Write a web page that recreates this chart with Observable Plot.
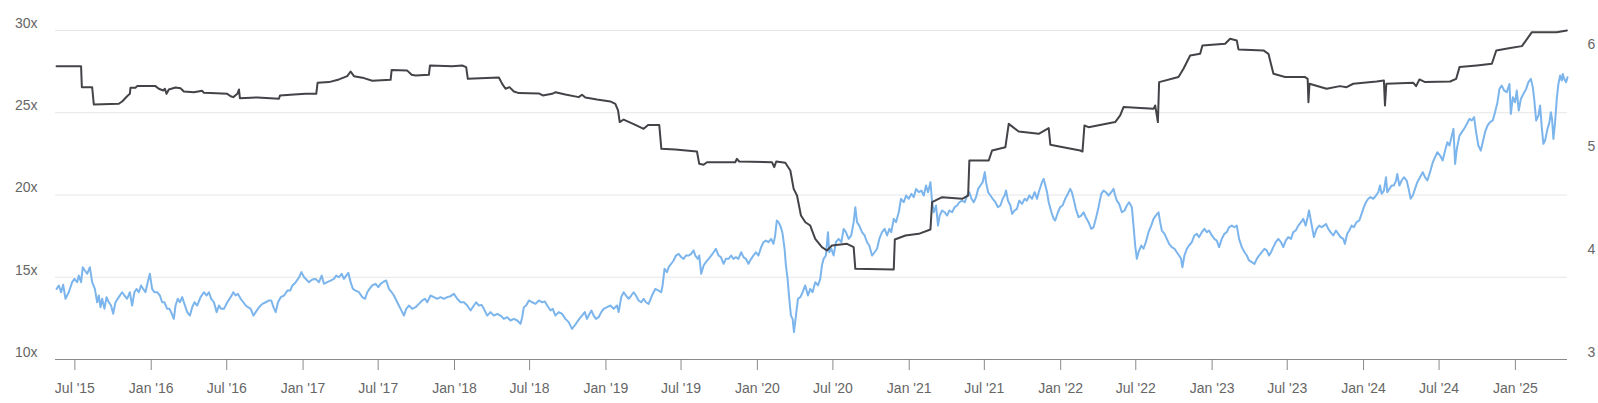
<!DOCTYPE html>
<html>
<head>
<meta charset="utf-8">
<script src="https://cdn.jsdelivr.net/npm/d3@7"></script>
<script src="https://cdn.jsdelivr.net/npm/@observablehq/plot@0.6"></script>
<style>
  html, body { margin: 0; padding: 0; background: #ffffff; }
  #chart { width: 1598px; height: 403px; }
</style>
</head>
<body>
<div id="chart"></div>
<script>
// ---- Data (decimal year, value) ----
// P/E multiple (left axis)
const peSeries = [
[2015.375,14.29],[2015.390,14.50],[2015.405,14.09],[2015.419,14.54],[2015.434,13.69],[2015.456,14.09],[2015.478,14.70],[2015.493,14.90],[2015.511,14.70],[2015.522,15.10],[2015.537,14.70],[2015.548,15.61],[2015.562,15.41],[2015.577,15.21],[2015.595,15.61],[2015.610,14.70],[2015.628,14.29],[2015.643,13.48],[2015.654,13.89],[2015.665,13.18],[2015.676,13.69],[2015.691,13.08],[2015.705,13.79],[2015.720,13.48],[2015.735,13.28],[2015.749,12.78],[2015.764,13.48],[2015.786,13.79],[2015.808,14.09],[2015.823,13.89],[2015.841,13.69],[2015.859,14.09],[2015.874,13.28],[2015.889,14.09],[2015.903,14.29],[2015.918,14.09],[2015.933,14.50],[2015.947,14.29],[2015.962,14.09],[2015.977,14.70],[2015.991,15.21],[2016.006,14.29],[2016.021,14.09],[2016.039,14.09],[2016.057,13.89],[2016.072,13.48],[2016.087,13.48],[2016.105,13.08],[2016.120,13.08],[2016.131,12.88],[2016.149,12.47],[2016.160,13.28],[2016.175,13.69],[2016.189,13.48],[2016.204,13.79],[2016.215,13.48],[2016.237,12.88],[2016.255,12.67],[2016.270,13.18],[2016.285,13.48],[2016.303,13.28],[2016.325,13.79],[2016.347,14.09],[2016.365,13.89],[2016.380,14.09],[2016.395,13.69],[2016.413,13.48],[2016.431,12.88],[2016.446,13.28],[2016.461,13.08],[2016.479,13.08],[2016.501,13.48],[2016.523,13.79],[2016.541,14.09],[2016.556,13.89],[2016.571,13.99],[2016.589,13.69],[2016.607,13.48],[2016.622,13.28],[2016.637,13.18],[2016.655,13.08],[2016.673,12.67],[2016.688,12.88],[2016.710,13.18],[2016.732,13.38],[2016.754,13.48],[2016.776,13.59],[2016.791,13.59],[2016.805,13.18],[2016.820,12.88],[2016.835,13.48],[2016.853,13.79],[2016.875,13.89],[2016.897,14.19],[2016.915,14.19],[2016.930,14.50],[2016.952,14.70],[2016.974,15.00],[2016.989,15.31],[2017.007,15.00],
[2017.039,14.70],[2017.061,14.86],[2017.083,14.90],[2017.105,14.70],[2017.123,15.10],[2017.138,14.60],[2017.160,14.70],[2017.182,14.80],[2017.204,14.90],[2017.219,15.10],[2017.237,15.00],[2017.255,15.21],[2017.270,14.90],[2017.285,15.10],[2017.299,15.27],[2017.314,14.70],[2017.329,14.29],[2017.347,14.19],[2017.369,14.09],[2017.391,13.79],[2017.409,13.69],[2017.424,14.09],[2017.439,14.29],[2017.457,14.50],[2017.479,14.60],[2017.497,14.40],[2017.512,14.60],[2017.534,14.74],[2017.549,14.80],[2017.567,14.29],[2017.585,14.09],[2017.600,13.89],[2017.622,13.48],[2017.644,13.08],[2017.666,12.67],[2017.681,13.08],[2017.699,13.28],[2017.721,13.08],[2017.743,13.18],[2017.765,13.38],[2017.787,13.59],[2017.805,13.69],[2017.820,13.48],[2017.842,13.89],[2017.864,13.79],[2017.886,13.69],[2017.908,13.79],[2017.930,13.69],[2017.952,13.79],[2017.974,13.85],[2017.996,13.99],[2018.018,13.69],[2018.040,13.48],[2018.062,13.48],[2018.084,13.28],[2018.106,12.98],[2018.128,13.28],[2018.143,13.48],[2018.161,13.28],[2018.179,13.32],[2018.194,13.08],[2018.216,12.67],[2018.238,12.88],[2018.260,12.67],[2018.282,12.78],[2018.304,12.67],[2018.326,12.47],[2018.348,12.57],[2018.370,12.37],[2018.392,12.47],[2018.414,12.37],[2018.436,12.17],[2018.447,12.57],[2018.458,13.18],[2018.473,13.28],[2018.491,13.59],[2018.513,13.48],[2018.535,13.38],[2018.557,13.59],[2018.579,13.48],[2018.597,13.52],[2018.612,13.28],[2018.634,12.98],[2018.649,13.08],
[2018.666,12.67],[2018.688,12.88],[2018.710,12.78],[2018.732,12.47],[2018.754,12.27],[2018.776,11.86],[2018.794,12.07],[2018.809,12.27],[2018.824,12.47],[2018.842,12.67],[2018.860,12.88],[2018.875,12.47],[2018.886,12.67],[2018.904,12.98],[2018.919,12.67],[2018.934,12.47],[2018.952,12.57],[2018.969,12.88],[2018.985,13.08],[2019.007,13.18],[2019.029,13.28],[2019.051,13.08],[2019.073,13.28],[2019.084,12.88],[2019.101,13.79],[2019.117,14.09],[2019.132,13.89],[2019.150,13.69],[2019.167,13.89],[2019.183,14.09],[2019.198,13.89],[2019.216,13.59],[2019.233,13.48],[2019.249,13.69],[2019.264,13.48],[2019.282,13.38],[2019.304,13.89],[2019.326,14.29],[2019.348,14.19],[2019.365,14.09],[2019.374,14.50],[2019.387,15.51],[2019.403,15.31],[2019.414,15.61],[2019.431,15.82],[2019.447,16.02],[2019.462,16.32],[2019.480,16.42],[2019.497,16.22],[2019.513,16.12],[2019.528,16.32],[2019.546,16.32],[2019.563,16.42],[2019.579,16.63],[2019.590,16.32],[2019.607,16.12],[2019.616,16.32],[2019.629,15.21],[2019.645,15.71],[2019.660,15.92],[2019.678,16.12],[2019.695,16.32],[2019.711,16.52],[2019.726,16.73],[2019.744,16.32],[2019.759,16.22],[2019.777,15.82],[2019.792,16.12],[2019.809,16.12],[2019.827,16.32],[2019.842,16.12],[2019.858,16.22],[2019.875,16.12],[2019.893,16.52],[2019.908,16.22],[2019.924,16.12],[2019.941,15.82],[2019.959,16.12],[2019.974,16.32],[2019.990,16.52],[2020.007,16.32],[2020.025,16.83],[2020.040,17.13],[2020.056,17.23],[2020.073,17.13],[2020.091,17.33],[2020.106,17.03],[2020.117,17.54],[2020.128,18.45],[2020.139,18.35],[2020.155,18.04],[2020.166,17.64],[2020.179,16.73],[2020.188,15.71],[2020.199,14.90],[2020.210,13.69],[2020.221,12.67],[2020.232,12.47],[2020.241,11.66],[2020.254,12.67],[2020.267,13.69],[2020.283,13.79],[2020.298,14.09],
[2020.315,14.50],[2020.333,13.89],[2020.348,14.29],[2020.363,14.09],[2020.381,14.70],[2020.399,14.50],[2020.414,14.90],[2020.425,15.71],[2020.436,16.12],[2020.451,16.32],[2020.465,17.74],[2020.473,16.52],[2020.487,16.73],[2020.502,16.32],[2020.517,17.13],[2020.535,17.33],[2020.553,17.13],[2020.568,17.94],[2020.583,17.74],[2020.601,17.33],[2020.618,17.54],[2020.634,18.35],[2020.645,19.26],[2020.656,18.35],[2020.671,18.14],[2020.689,17.74],[2020.706,17.54],[2020.722,17.13],[2020.737,16.93],[2020.755,16.32],[2020.772,16.52],[2020.788,16.73],[2020.803,17.33],[2020.821,17.74],[2020.838,17.94],[2020.854,17.54],[2020.869,17.94],[2020.882,17.74],[2020.898,18.55],[2020.913,18.35],[2020.931,18.95],[2020.946,19.77],[2020.964,19.56],[2020.979,19.97],[2020.997,19.77],[2021.014,20.07],[2021.030,19.87],[2021.045,20.37],[2021.063,20.17],[2021.080,20.27],[2021.096,19.97],[2021.111,20.58],[2021.124,20.17],[2021.140,20.78],[2021.151,19.56],[2021.162,18.95],[2021.177,19.36],[2021.190,18.14],[2021.201,18.75],[2021.217,19.06],[2021.234,18.95],[2021.250,18.75],[2021.265,19.06],[2021.283,18.95],[2021.300,19.26],[2021.316,19.36],[2021.331,19.56],[2021.349,19.66],[2021.367,19.56],[2021.382,19.97],[2021.397,20.17],[2021.411,19.77],[2021.426,19.56],[2021.441,19.87],[2021.455,20.37],[2021.470,20.58],[2021.485,20.78],[2021.499,21.39],[2021.507,20.78],[2021.521,20.17],[2021.536,19.97],[2021.551,19.77],[2021.569,19.56],[2021.586,19.26],[2021.602,19.36],[2021.617,19.77],[2021.630,19.97],[2021.639,20.27],[2021.652,19.66],[2021.668,19.36],[2021.679,18.85],[2021.696,19.06],[2021.711,19.16],[2021.727,19.66],[2021.745,19.46],[2021.762,19.77],[2021.777,19.66],[2021.793,19.97],[2021.811,19.77],[2021.828,20.17],[2021.844,19.77],[2021.855,20.17],[2021.866,20.47],[2021.877,20.78],[2021.888,20.98],[2021.899,20.58],[2021.910,20.17],[2021.921,19.56],[2021.939,18.95],[2021.954,18.55],
[2021.964,18.45],[2021.982,18.95],[2021.997,19.26],[2022.012,19.36],[2022.030,19.77],[2022.048,20.07],[2022.063,20.37],[2022.074,20.17],[2022.085,19.77],[2022.100,19.16],[2022.118,18.65],[2022.136,18.75],[2022.151,18.95],[2022.166,18.65],[2022.184,18.35],[2022.202,17.94],[2022.217,18.04],[2022.232,18.55],[2022.250,19.26],[2022.268,20.07],[2022.283,20.27],[2022.298,20.17],[2022.316,19.97],[2022.334,20.17],[2022.349,20.37],[2022.360,19.97],[2022.371,19.66],[2022.386,19.46],[2022.404,18.95],[2022.422,19.06],[2022.437,19.36],[2022.452,19.56],[2022.470,19.26],[2022.481,18.14],[2022.492,16.93],[2022.503,16.12],[2022.514,16.52],[2022.532,16.93],[2022.547,16.73],[2022.562,17.13],[2022.580,17.74],[2022.598,18.14],[2022.613,18.55],[2022.628,18.75],[2022.646,18.95],[2022.657,18.35],[2022.668,17.84],[2022.686,17.64],[2022.701,17.33],[2022.716,17.03],[2022.734,16.83],[2022.752,16.73],[2022.767,16.52],[2022.782,16.32],[2022.795,16.12],[2022.804,15.61],[2022.817,16.32],[2022.833,16.73],[2022.848,16.93],[2022.866,17.13],[2022.883,17.54],[2022.899,17.64],[2022.914,17.44],[2022.932,17.74],[2022.949,17.94],[2022.965,17.74],[2022.980,17.84],[2022.998,17.54],[2023.015,17.33],[2023.031,17.23],[2023.046,16.83],[2023.064,17.33],[2023.081,17.64],[2023.097,17.74],[2023.112,18.04],[2023.130,18.14],[2023.147,18.04],[2023.163,18.14],[2023.178,17.33],[2023.196,16.83],[2023.214,16.52],[2023.229,16.32],[2023.244,16.02],[2023.262,15.92],[2023.280,15.81],[2023.295,16.12],[2023.310,16.32],[2023.328,16.52],[2023.345,16.73],[2023.361,16.63],[2023.376,16.32],[2023.389,16.52],[2023.404,16.83],[2023.420,17.13],[2023.437,17.33],[2023.455,17.13],[2023.470,16.83],[2023.486,17.23],[2023.503,17.44],[2023.521,17.33],[2023.536,17.74],[2023.552,17.84],[2023.569,18.14],[2023.587,18.35],[2023.602,18.55],[2023.618,18.14],[2023.631,18.65],[2023.640,19.06],
[2023.672,17.44],[2023.690,17.94],[2023.708,18.14],[2023.723,18.04],[2023.738,18.14],[2023.752,18.24],[2023.767,17.94],[2023.782,17.74],[2023.800,17.54],[2023.818,17.84],[2023.833,17.64],[2023.848,17.44],[2023.866,17.33],[2023.877,17.03],[2023.892,17.64],[2023.906,17.84],[2023.921,18.14],[2023.936,18.04],[2023.954,18.35],[2023.972,18.45],[2023.987,18.85],[2024.002,19.26],[2024.016,19.56],[2024.031,19.77],[2024.046,19.87],[2024.064,19.77],[2024.082,19.97],[2024.097,20.17],[2024.108,20.58],[2024.119,20.07],[2024.134,20.27],[2024.148,21.08],[2024.156,20.17],[2024.170,20.37],[2024.185,20.58],[2024.200,20.58],[2024.214,20.88],[2024.222,21.28],[2024.236,20.58],[2024.251,20.88],[2024.266,21.08],[2024.284,20.88],[2024.297,20.37],[2024.310,19.77],[2024.324,19.97],[2024.339,20.37],[2024.354,20.78],[2024.372,21.08],[2024.390,21.39],[2024.405,21.08],[2024.420,20.88],[2024.438,21.39],[2024.456,21.99],[2024.471,22.30],[2024.486,22.60],[2024.504,22.40],[2024.521,22.10],[2024.537,22.70],[2024.552,23.21],[2024.566,23.01],[2024.581,23.61],[2024.592,24.02],[2024.603,21.89],[2024.614,22.80],[2024.632,23.61],[2024.647,23.82],[2024.662,24.02],[2024.680,24.32],[2024.698,24.63],[2024.713,24.53],[2024.728,24.73],[2024.741,23.82],[2024.756,23.01],[2024.772,22.70],[2024.785,23.21],[2024.800,23.82],[2024.816,24.22],[2024.833,24.43],[2024.851,24.53],[2024.866,25.03],[2024.882,25.64],[2024.895,26.45],[2024.910,26.65],[2024.926,26.35],[2024.943,26.25],[2024.961,26.75],[2024.970,24.93],[2024.983,25.94],[2024.998,25.64],[2025.009,26.35],[2025.022,25.13],[2025.036,25.84],[2025.053,26.15],[2025.071,26.45],[2025.086,26.86],[2025.102,27.06],[2025.115,26.55],[2025.124,25.84],[2025.137,24.53],[2025.152,24.83],[2025.163,25.44],[2025.174,24.12],[2025.185,23.11],[2025.196,23.31],[2025.212,24.02],[2025.225,24.43],[2025.234,25.03],[2025.242,24.63],[2025.251,23.41],[2025.262,24.43],[2025.273,25.84],[2025.284,26.75],[2025.295,27.26],[2025.306,26.96],[2025.313,27.36],[2025.322,27.06],[2025.335,26.86],[2025.344,27.16]
];

// EPS (right axis)
const epsSeries = [
[2015.375,5.853],[2015.537,5.853],[2015.542,5.649],[2015.610,5.649],[2015.621,5.481],[2015.786,5.487],[2015.808,5.510],[2015.841,5.561],[2015.859,5.584],[2015.863,5.643],[2015.896,5.643],[2015.907,5.659],[2016.028,5.659],[2016.050,5.633],[2016.079,5.617],[2016.090,5.633],[2016.101,5.584],[2016.116,5.626],[2016.160,5.646],[2016.193,5.639],[2016.215,5.607],[2016.281,5.600],[2016.336,5.613],[2016.347,5.594],[2016.391,5.591],[2016.501,5.584],[2016.523,5.561],[2016.541,5.552],[2016.567,5.584],[2016.578,5.626],[2016.584,5.542],[2016.699,5.549],[2016.841,5.536],[2016.848,5.568],[2016.941,5.578],[2017.017,5.584],
[2017.087,5.584],[2017.096,5.691],[2017.171,5.698],[2017.237,5.724],[2017.292,5.756],[2017.314,5.801],[2017.336,5.756],[2017.402,5.737],[2017.457,5.712],[2017.578,5.720],[2017.585,5.817],[2017.688,5.810],[2017.717,5.769],[2017.743,5.763],[2017.831,5.769],[2017.838,5.860],[2017.985,5.853],[2018.051,5.860],[2018.077,5.844],[2018.088,5.730],[2018.293,5.743],[2018.315,5.681],[2018.337,5.633],[2018.363,5.649],[2018.392,5.607],[2018.425,5.591],[2018.557,5.588],[2018.583,5.568],[2018.645,5.584],[2018.667,5.600],
[2018.732,5.578],[2018.820,5.552],[2018.842,5.575],[2018.864,5.549],[2018.941,5.529],[2019.029,5.510],[2019.062,5.487],[2019.080,5.422],[2019.091,5.309],[2019.117,5.334],[2019.194,5.282],[2019.249,5.244],[2019.278,5.282],[2019.352,5.282],[2019.366,5.049],[2019.458,5.043],[2019.601,5.023],[2019.616,4.903],[2019.645,4.894],[2019.667,4.919],[2019.854,4.919],[2019.865,4.952],[2019.880,4.926],[2020.096,4.919],[2020.111,4.871],[2020.124,4.926],[2020.184,4.913],[2020.217,4.838],[2020.239,4.660],[2020.261,4.595],[2020.287,4.400],[2020.316,4.335],
[2020.348,4.303],[2020.381,4.174],[2020.425,4.093],[2020.458,4.060],[2020.491,4.109],[2020.590,4.125],[2020.634,4.093],[2020.645,3.882],[2020.898,3.876],[2020.905,4.167],[2020.975,4.206],[2021.063,4.222],[2021.140,4.265],[2021.151,4.530],[2021.217,4.579],[2021.349,4.563],[2021.389,4.595],[2021.397,4.936],[2021.525,4.936],[2021.547,5.033],[2021.635,5.065],[2021.657,5.292],[2021.723,5.218],[2021.855,5.195],[2021.921,5.250],[2021.932,5.088],[2021.965,5.080],
[2022.129,5.033],[2022.144,5.023],[2022.157,5.276],[2022.184,5.260],[2022.360,5.309],[2022.393,5.374],[2022.415,5.455],[2022.613,5.438],[2022.624,5.471],[2022.642,5.309],[2022.650,5.698],[2022.778,5.747],[2022.811,5.828],[2022.855,5.957],[2022.921,5.973],[2022.936,6.054],[2023.086,6.071],[2023.119,6.119],[2023.163,6.103],[2023.174,6.016],[2023.339,6.006],[2023.372,5.973],[2023.405,5.779],[2023.482,5.747],[2023.614,5.747],[2023.631,5.730],[2023.636,5.503],[2023.643,5.682],
[2023.756,5.633],[2023.844,5.659],[2023.888,5.649],[2023.932,5.682],[2024.086,5.704],[2024.134,5.714],[2024.141,5.471],[2024.150,5.682],[2024.328,5.691],[2024.346,5.659],[2024.368,5.724],[2024.405,5.698],[2024.570,5.704],[2024.610,5.730],[2024.632,5.844],[2024.746,5.860],[2024.845,5.876],[2024.874,6.006],[2024.966,6.029],[2025.043,6.048],[2025.109,6.184],[2025.273,6.184],[2025.340,6.200]
];

// Axis ticks
const xTickDates = ["2015-07-01","2016-01-01","2016-07-01","2017-01-01","2017-07-01","2018-01-01","2018-07-01","2019-01-01","2019-07-01","2020-01-01","2020-07-01","2021-01-01","2021-07-01","2022-01-01","2022-07-01","2023-01-01","2023-07-01","2024-01-01","2024-07-01","2025-01-01"];
const leftTicks = [10, 15, 20, 25, 30];
const rightTicks = [3, 4, 5, 6];
const xRange = [2015.368, 2025.344];
const leftDomain = [10, 30];
const rightDomain = [3, 6.2];

// ---- helpers ----
function toDate(y) {
  const yr = Math.floor(y);
  const a = Date.UTC(yr, 0, 1), b = Date.UTC(yr + 1, 0, 1);
  return new Date(a + (y - yr) * (b - a));
}
const k = (leftDomain[1] - leftDomain[0]) / (rightDomain[1] - rightDomain[0]);
const toLeft = e => leftDomain[0] + (e - rightDomain[0]) * k;
const fromLeft = v => rightDomain[0] + (v - leftDomain[0]) / k;

const pe = peSeries.map(([y, v]) => ({date: toDate(y), value: v}));
const eps = epsSeries.map(([y, v]) => ({date: toDate(y), value: toLeft(v)}));
const ticks = xTickDates.map(s => new Date(s + "T00:00:00Z"));
const fmt = d3.utcFormat("%b '%y");

const chart = Plot.plot({
  width: 1598,
  height: 403,
  marginLeft: 55,
  marginRight: 31,
  marginTop: 30,
  marginBottom: 44,
  style: {
    fontFamily: "'Liberation Sans', Arial, Helvetica, sans-serif",
    fontSize: "14px",
    color: "#666666",
    background: "#ffffff",
    overflow: "visible"
  },
  x: {type: "utc", domain: xRange.map(toDate), label: null},
  y: {domain: leftDomain, label: null},
  marks: [
    Plot.gridY(leftTicks.slice(1), {stroke: "#e6e6e6", strokeOpacity: 1}),
    Plot.axisY(leftTicks, {anchor: "left", tickSize: 0, tickPadding: 18, dy: -7,
      tickFormat: d => d + "x", fill: "#666666", label: null}),
    Plot.axisY(rightTicks.map(toLeft), {anchor: "right", tickSize: 0, tickPadding: 20, dy: -7,
      tickFormat: v => String(Math.round(fromLeft(v))), fill: "#666666", label: null}),
    Plot.lineY(pe, {x: "date", y: "value", stroke: "#7cb5ec", strokeWidth: 2}),
    Plot.lineY(eps, {x: "date", y: "value", stroke: "#434348", strokeWidth: 2}),
    Plot.ruleY([leftDomain[0]], {stroke: "#8a8a8a", strokeWidth: 1}),
    Plot.axisX(ticks, {anchor: "bottom", tickSize: 11, tickPadding: 13, stroke: "#8a8a8a",
      tickFormat: fmt, fill: "#666666", label: null})
  ]
});
document.getElementById("chart").appendChild(chart);
</script>
</body>
</html>
